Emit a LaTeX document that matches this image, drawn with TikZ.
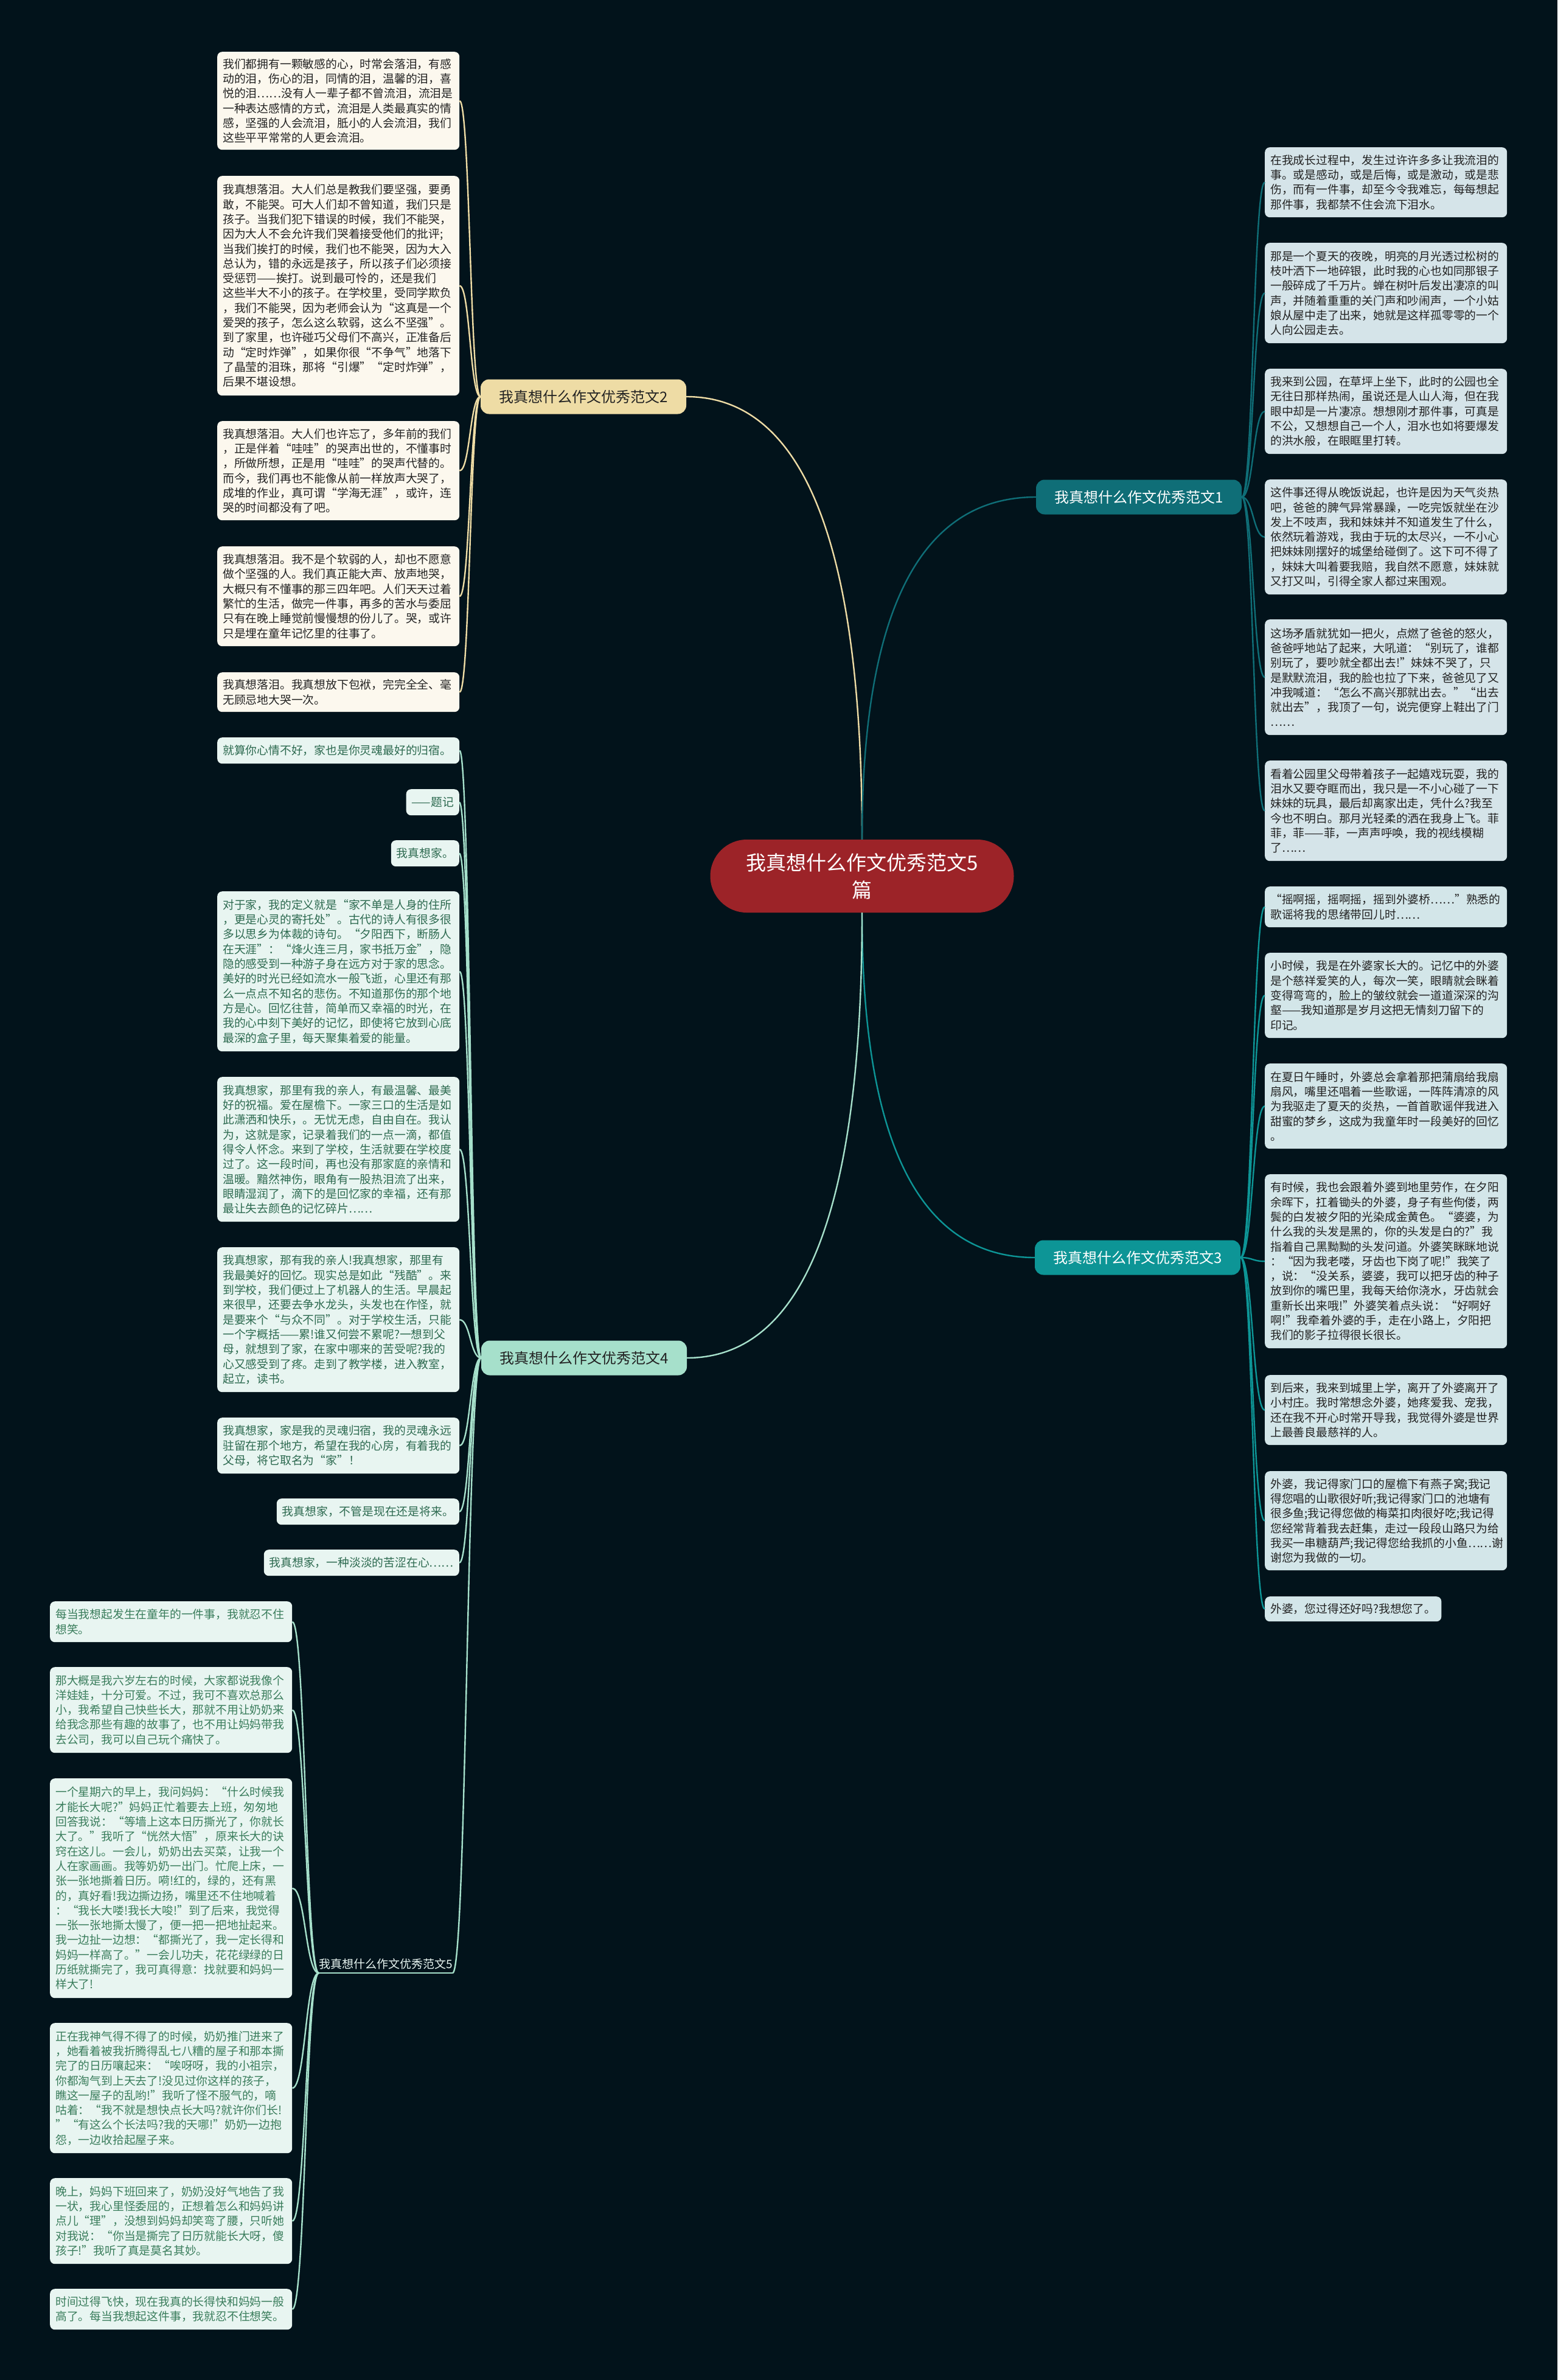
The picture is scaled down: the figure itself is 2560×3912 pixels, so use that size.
\documentclass[tikz,border=0pt]{standalone}
\usepackage{fontspec}
\setmainfont{Noto Sans CJK SC}
\usetikzlibrary{calc}
\definecolor{bg}{HTML}{02131B}
\definecolor{cred}{HTML}{9C2328}
\definecolor{ctwo}{HTML}{EEDCA5}
\definecolor{cone}{HTML}{0F6E77}
\definecolor{cthree}{HTML}{0D9596}
\definecolor{cfour}{HTML}{A6E0CB}
\definecolor{ltwo}{HTML}{FCF8EE}
\definecolor{lone}{HTML}{D5E4E9}
\definecolor{lthree}{HTML}{D3E6E9}
\definecolor{lfour}{HTML}{E8F5F1}
\definecolor{tfour}{HTML}{2D6A50}
\definecolor{tfive}{HTML}{3A7D5C}
\definecolor{tdark}{HTML}{222222}
\newcommand\lf{\fontsize{18.8pt}{24.3pt}\selectfont}
\newcommand\lconn[3]{%
  \path ($(#2)!0.5!(#3)$) coordinate (mm);
  \draw[#1] (#2) .. controls (#2 -| mm) and (#3 -| mm) .. (#3);}
\newcommand\qconn[3]{%
  \path (#3 -| #2) coordinate (kk);
  \draw[#1] (#2) .. controls ($(#2)!0.667!(kk)$) and ($(#3)!0.667!(kk)$) .. (#3);}
\begin{document}
\begin{tikzpicture}[x=1pt,y=-1pt,
  leafbox/.style={rounded corners=8pt, inner xsep=9pt, inner ysep=0pt, align=left, font=\lf},
  leafw/.style={leafbox, text width=380pt, anchor=north west, minimum height=#1},
  leafs/.style={leafbox, minimum height=#1},
  ftwo/.style={fill=ltwo, text=tdark},
  fone/.style={fill=lone, text=tdark},
  fthree/.style={fill=lthree, text=tdark},
  ffour/.style={fill=lfour, text=tfour},
  ffive/.style={fill=lfour, text=tfive},
  branchbox/.style={rounded corners=14pt, minimum width=338pt, minimum height=57pt, inner sep=0pt, font=\fontsize{24pt}{28pt}\selectfont},
  ktwo/.style={draw=ctwo, line width=2.4pt},
  kone/.style={draw=cone, line width=2.4pt},
  kthree/.style={draw=cthree, line width=2.4pt},
  kfour/.style={draw=cfour, line width=2.4pt},
]
\fill[bg] (0,0) rectangle (2560,3912);
\useasboundingbox (0,0) rectangle (2560,3912);

% center
\node[fill=cred, text=white, rounded corners=60pt, minimum width=499pt, minimum height=120pt, inner sep=0pt, align=center, text width=420pt, font=\fontsize{33pt}{45pt}\selectfont] (root) at (1417,1440) {我真想什么作文优秀范文5\\篇};

% branches
\node[branchbox, fill=ctwo, text=tdark] (b2) at (959,652) {我真想什么作文优秀范文2};
\node[branchbox, fill=cone, text=white] (b1) at (1872,817) {我真想什么作文优秀范文1};
\node[branchbox, fill=cthree, text=white] (b3) at (1870,2067) {我真想什么作文优秀范文3};
\node[branchbox, fill=cfour, text=tdark] (b4) at (960,2232) {我真想什么作文优秀范文4};
\node[inner xsep=0pt, inner ysep=6pt, text=lfour, font=\fontsize{19pt}{24pt}\selectfont] (b5) at (634,3228) {我真想什么作文优秀范文5};
\draw[kfour] (b5.south west) -- (b5.south east);

% branch 2 leaves
\node[leafw=161, ftwo] (l2a) at (357,85) {我们都拥有一颗敏感的心，时常会落泪，有感\\动的泪，伤心的泪，同情的泪，温馨的泪，喜\\悦的泪……没有人一辈子都不曾流泪，流泪是\\一种表达感情的方式，流泪是人类最真实的情\\感，坚强的人会流泪，胝小的人会流泪，我们\\这些平平常常的人更会流泪。};
\node[leafw=361, ftwo] (l2b) at (357,289) {我真想落泪。大人们总是教我们要坚强，要勇\\敢，不能哭。可大人们却不曾知道，我们只是\\孩子。当我们犯下错误的时候，我们不能哭，\\因为大人不会允许我们哭着接受他们的批评;\\当我们挨打的时候，我们也不能哭，因为大入\\总认为，错的永远是孩子，所以孩子们必须接\\受惩罚——挨打。说到最可怜的，还是我们\\这些半大不小的孩子。在学校里，受同学欺负\\，我们不能哭，因为老师会认为“这真是一个\\爱哭的孩子，怎么这么软弱，这么不坚强”。\\到了家里，也许碰巧父母们不高兴，正准备后\\动“定时炸弹”，如果你很“不争气”地落下\\了晶莹的泪珠，那将“引爆”“定时炸弹”，\\后果不堪设想。};
\node[leafw=163, ftwo] (l2c) at (357,692) {我真想落泪。大人们也许忘了，多年前的我们\\，正是伴着“哇哇”的哭声出世的，不懂事时\\，所做所想，正是用“哇哇”的哭声代替的。\\而今，我们再也不能像从前一样放声大哭了，\\成堆的作业，真可谓“学海无涯”，或许，连\\哭的时间都没有了吧。};
\node[leafw=164, ftwo] (l2d) at (357,898) {我真想落泪。我不是个软弱的人，却也不愿意\\做个坚强的人。我们真正能大声、放声地哭，\\大概只有不懂事的那三四年吧。人们天天过着\\繁忙的生活，做完一件事，再多的苦水与委屈\\只有在晚上睡觉前慢慢想的份儿了。哭，或许\\只是埋在童年记忆里的往事了。};
\node[leafw=65, ftwo] (l2e) at (357,1105) {我真想落泪。我真想放下包袱，完完全全、毫\\无顾忌地大哭一次。};

% branch 4 leaves
\node[leafw=43, ffour] (l4a) at (357,1212) {就算你心情不好，家也是你灵魂最好的归宿。};
\node[leafs=43, ffour, anchor=north east] (l4b) at (755,1297) {——题记};
\node[leafs=43, ffour, anchor=north east] (l4c) at (755,1381) {我真想家。};
\node[leafw=263, ffour] (l4d) at (357,1465) {对于家，我的定义就是“家不单是人身的住所\\，更是心灵的寄托处”。古代的诗人有很多很\\多以思乡为体裁的诗句。“夕阳西下，断肠人\\在天涯”：“烽火连三月，家书抵万金”，隐\\隐的感受到一种游子身在远方对于家的思念。\\美好的时光已经如流水一般飞逝，心里还有那\\么一点点不知名的悲伤。不知道那伤的那个地\\方是心。回忆往昔，简单而又幸福的时光，在\\我的心中刻下美好的记忆，即使将它放到心底\\最深的盒子里，每天聚集着爱的能量。};
\node[leafw=238, ffour] (l4e) at (357,1770) {我真想家，那里有我的亲人，有最温馨、最美\\好的祝福。爱在屋檐下。一家三口的生活是如\\此潇洒和快乐，。无忧无虑，自由自在。我认\\为，这就是家，记录着我们的一点一滴，都值\\得令人怀念。来到了学校，生活就要在学校度\\过了。这一段时间，再也没有那家庭的亲情和\\温暖。黯然神伤，眼角有一股热泪流了出来，\\眼睛湿润了，滴下的是回忆家的幸福，还有那\\最让失去颜色的记忆碎片……};
\node[leafw=238, ffour] (l4f) at (357,2050) {我真想家，那有我的亲人!我真想家，那里有\\我最美好的回忆。现实总是如此“残酷”。来\\到学校，我们便过上了机器人的生活。早晨起\\来很早，还要去争水龙头，头发也在作怪，就\\是要来个“与众不同”。对于学校生活，只能\\一个字概括——累!谁又何尝不累呢?一想到父\\母，就想到了家，在家中哪来的苦受呢?我的\\心又感受到了疼。走到了教学楼，进入教室，\\起立，读书。};
\node[leafw=92, ffour] (l4g) at (357,2330) {我真想家，家是我的灵魂归宿，我的灵魂永远\\驻留在那个地方，希望在我的心房，有着我的\\父母，将它取名为“家”！};
\node[leafs=43, ffour, anchor=north east] (l4h) at (755,2463) {我真想家，不管是现在还是将来。};
\node[leafs=43, ffour, anchor=north east] (l4i) at (755,2547) {我真想家，一种淡淡的苦涩在心……};

% branch 5 leaves
\node[leafw=67, ffive] (l5a) at (82,2632) {每当我想起发生在童年的一件事，我就忍不住\\想笑。};
\node[leafw=141, ffive] (l5b) at (82,2740) {那大概是我六岁左右的时候，大家都说我像个\\洋娃娃，十分可爱。不过，我可不喜欢总那么\\小，我希望自己快些长大，那就不用让奶奶来\\给我念那些有趣的故事了，也不用让妈妈带我\\去公司，我可以自己玩个痛快了。};
\node[leafw=361, ffive] (l5c) at (82,2923) {一个星期六的早上，我问妈妈：“什么时候我\\才能长大呢?”妈妈正忙着要去上班，匆匆地\\回答我说：“等墙上这本日历撕光了，你就长\\大了。”我听了“恍然大悟”，原来长大的诀\\窍在这儿。一会儿，奶奶出去买菜，让我一个\\人在家画画。我等奶奶一出门。忙爬上床，一\\张一张地撕着日历。嗬!红的，绿的，还有黑\\的，真好看!我边撕边扬，嘴里还不住地喊着\\：“我长大喽!我长大唆!”到了后来，我觉得\\一张一张地撕太慢了，便一把一把地扯起来。\\我一边扯一边想：“都撕光了，我一定长得和\\妈妈一样高了。”一会儿功夫，花花绿绿的日\\历纸就撕完了，我可真得意：找就要和妈妈一\\样大了!};
\node[leafw=214, ffive] (l5d) at (82,3325) {正在我神气得不得了的时候，奶奶推门进来了\\，她看着被我折腾得乱七八糟的屋子和那本撕\\完了的日历嚷起来：“唉呀呀，我的小祖宗，\\你都淘气到上天去了!没见过你这样的孩子，\\瞧这一屋子的乱哟!”我听了怪不服气的，嘀\\咕着：“我不就是想快点长大吗?就许你们长!\\”“有这么个长法吗?我的天哪!”奶奶一边抱\\怨，一边收拾起屋子来。};
\node[leafw=141, ffive] (l5e) at (82,3580) {晚上，妈妈下班回来了，奶奶没好气地告了我\\一状，我心里怪委屈的，正想着怎么和妈妈讲\\点儿“理”，没想到妈妈却笑弯了腰，只听她\\对我说：“你当是撕完了日历就能长大呀，傻\\孩子!”我听了真是莫名其妙。};
\node[leafw=67, ffive] (l5f) at (82,3762) {时间过得飞快，现在我真的长得快和妈妈一般\\高了。每当我想起这件事，我就忍不住想笑。};

% branch 1 leaves
\node[leafw=115, fone] (l1a) at (2079,242) {在我成长过程中，发生过许许多多让我流泪的\\事。或是感动，或是后悔，或是激动，或是悲\\伤，而有一件事，却至今令我难忘，每每想起\\那件事，我都禁不住会流下泪水。};
\node[leafw=165, fone] (l1b) at (2079,399) {那是一个夏天的夜晚，明亮的月光透过松树的\\枝叶洒下一地碎银，此时我的心也如同那银子\\一般碎成了千万片。蝉在树叶后发出凄凉的叫\\声，并随着重重的关门声和吵闹声，一个小姑\\娘从屋中走了出来，她就是这样孤零零的一个\\人向公园走去。};
\node[leafw=140, fone] (l1c) at (2079,606) {我来到公园，在草坪上坐下，此时的公园也全\\无往日那样热闹，虽说还是人山人海，但在我\\眼中却是一片凄凉。想想刚才那件事，可真是\\不公，又想想自己一个人，泪水也如将要爆发\\的洪水般，在眼眶里打转。};
\node[leafw=189, fone] (l1d) at (2079,788) {这件事还得从晚饭说起，也许是因为天气炎热\\吧，爸爸的脾气异常暴躁，一吃完饭就坐在沙\\发上不吱声，我和妹妹并不知道发生了什么，\\依然玩着游戏，我由于玩的太尽兴，一不小心\\把妹妹刚摆好的城堡给碰倒了。这下可不得了\\，妹妹大叫着要我赔，我自然不愿意，妹妹就\\又打又叫，引得全家人都过来围观。};
\node[leafw=190, fone] (l1e) at (2079,1018) {这场矛盾就犹如一把火，点燃了爸爸的怒火，\\爸爸呼地站了起来，大吼道：“别玩了，谁都\\别玩了，要吵就全都出去!”妹妹不哭了，只\\是默默流泪，我的脸也拉了下来，爸爸见了又\\冲我喊道：“怎么不高兴那就出去。”“出去\\就出去”，我顶了一句，说完便穿上鞋出了门\\……};
\node[leafw=165, fone] (l1f) at (2079,1250) {看着公园里父母带着孩子一起嬉戏玩耍，我的\\泪水又要夺眶而出，我只是一不小心碰了一下\\妹妹的玩具，最后却离家出走，凭什么?我至\\今也不明白。那月光轻柔的洒在我身上飞。菲\\菲，菲——菲，一声声呼唤，我的视线模糊\\了……};

% branch 3 leaves
\node[leafw=67, fthree] (l3a) at (2079,1457) {“摇啊摇，摇啊摇，摇到外婆桥……”熟悉的\\歌谣将我的思绪带回儿时……};
\node[leafw=140, fthree] (l3b) at (2079,1566) {小时候，我是在外婆家长大的。记忆中的外婆\\是个慈祥爱笑的人，每次一笑，眼睛就会眯着\\变得弯弯的，脸上的皱纹就会一道道深深的沟\\壑——我知道那是岁月这把无情刻刀留下的\\印记。};
\node[leafw=140, fthree] (l3c) at (2079,1748) {在夏日午睡时，外婆总会拿着那把蒲扇给我扇\\扇风，嘴里还唱着一些歌谣，一阵阵清凉的风\\为我驱走了夏天的炎热，一首首歌谣伴我进入\\甜蜜的梦乡，这成为我童年时一段美好的回忆\\。};
\node[leafw=286, fthree] (l3d) at (2079,1930) {有时候，我也会跟着外婆到地里劳作，在夕阳\\余晖下，扛着锄头的外婆，身子有些佝偻，两\\鬓的白发被夕阳的光染成金黄色。“婆婆，为\\什么我的头发是黑的，你的头发是白的?”我\\指着自己黑黝黝的头发问道。外婆笑眯眯地说\\：“因为我老喽，牙齿也下岗了呢!”我笑了\\，说：“没关系，婆婆，我可以把牙齿的种子\\放到你的嘴巴里，我每天给你浇水，牙齿就会\\重新长出来哦!”外婆笑着点头说：“好啊好\\啊!”我牵着外婆的手，走在小路上，夕阳把\\我们的影子拉得很长很长。};
\node[leafw=115, fthree] (l3e) at (2079,2260) {到后来，我来到城里上学，离开了外婆离开了\\小村庄。我时常想念外婆，她疼爱我、宠我，\\还在我不开心时常开导我，我觉得外婆是世界\\上最善良最慈祥的人。};
\node[leafw=163, fthree] (l3f) at (2079,2418) {外婆，我记得家门口的屋檐下有燕子窝;我记\\得您唱的山歌很好听;我记得家门口的池塘有\\很多鱼;我记得您做的梅菜扣肉很好吃;我记得\\您经常背着我去赶集，走过一段段山路只为给\\我买一串糖葫芦;我记得您给我抓的小鱼……谢\\谢您为我做的一切。};
\node[leafs=41, fthree, anchor=north west] (l3g) at (2079,2624) {外婆，您过得还好吗?我想您了。};

% root to branches
\qconn{ktwo}{root.north}{b2.east}
\qconn{kone}{root.north}{b1.west}
\qconn{kthree}{root.south}{b3.west}
\qconn{kfour}{root.south}{b4.east}

% leaf connectors
\foreach \n in {l2a,l2b,l2c,l2d,l2e} {\lconn{ktwo}{b2.west}{\n.east}}
\foreach \n in {l4a,l4b,l4c,l4d,l4e,l4f,l4g,l4h,l4i} {\lconn{kfour}{b4.west}{\n.east}}
\lconn{kfour}{b4.west}{b5.south east}
\foreach \n in {l5a,l5b,l5c,l5d,l5e,l5f} {\lconn{kfour}{b5.south west}{\n.east}}
\foreach \n in {l1a,l1b,l1c,l1d,l1e,l1f} {\lconn{kone}{b1.east}{\n.west}}
\foreach \n in {l3a,l3b,l3c,l3d,l3e,l3f,l3g} {\lconn{kthree}{b3.east}{\n.west}}
\end{tikzpicture}
\end{document}
